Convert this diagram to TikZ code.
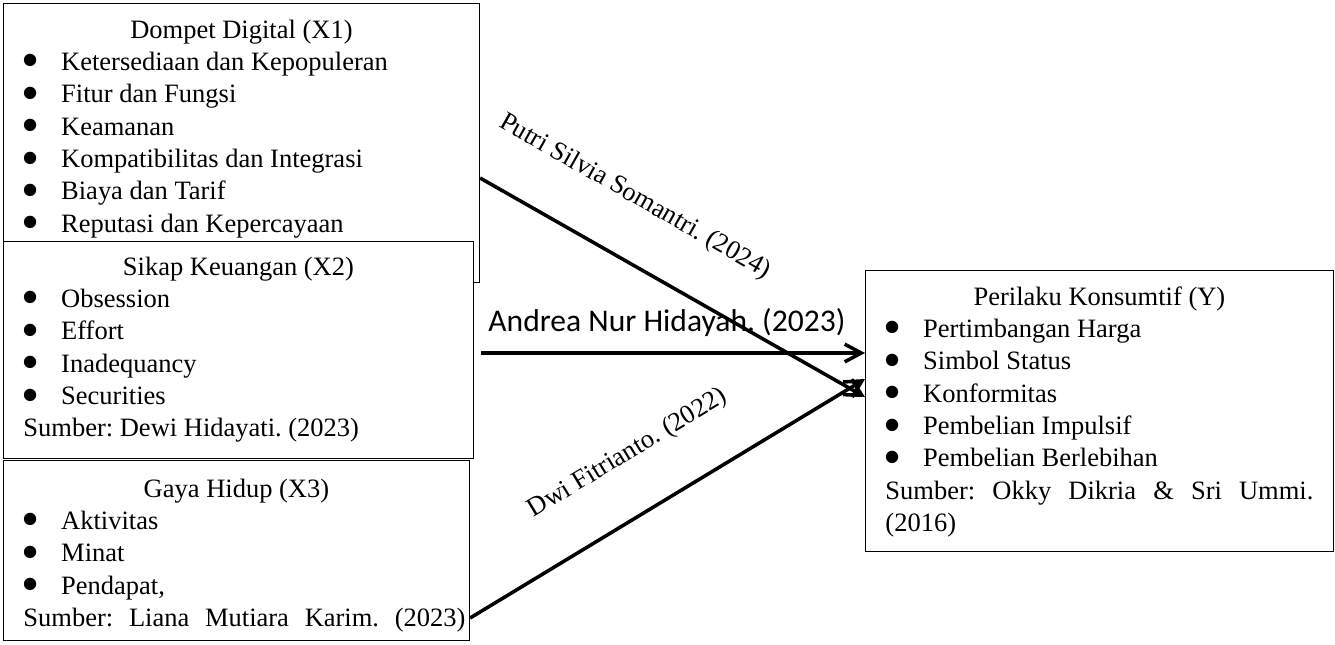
\documentclass[tikz,border=0pt]{standalone}
\usepackage{fontspec}
\usepackage{graphicx}
\setmainfont{Liberation Serif}
\newfontfamily\labelfont{Carlito}
\usetikzlibrary{positioning, arrows.meta, calc}
\frenchspacing
\newlength\px
\setlength\px{0.4529pt}
\newcommand{\titik}{\raisebox{-3.4pt}{\scalebox{1.95}{\textbullet}}}
\newcommand{\butir}[1]{\par\hspace*{-1pt}\makebox[18.1pt][l]{\titik}#1}
\newcommand{\judul}[1]{{\centering #1\par}}
\tikzset{
  kotak/.style={draw, line width=0.5pt, fill=white, anchor=north west, inner sep=0pt},
  isi/.style={anchor=base west, inner sep=0pt, font=\fontsize{12}{14.67}\selectfont\frenchspacing},
  panah/.style={-{Straight Barb[length=7.5pt, width=8pt]}, line width=1.6pt},
  rujukan/.style={font=\fontsize{12}{14.67}\selectfont\frenchspacing, inner sep=0pt, sloped, above}
}

\begin{document}
\begin{tikzpicture}[x=0.4529pt, y=-0.4529pt]
  \useasboundingbox (0,0) rectangle (1335,644);

  % variabel bebas
  \node[kotak, minimum width=476\px, minimum height=279\px] (x1) at (3,3) {};
  \node[isi] (x1isi) at ($(x1.north west)+(20,35)$) {\parbox[t]{436\px}{%
    \judul{Dompet Digital (X1)}
    \butir{Ketersediaan dan Kepopuleran}
    \butir{Fitur dan Fungsi}
    \butir{Keamanan}
    \butir{Kompatibilitas dan Integrasi}
    \butir{Biaya dan Tarif}
    \butir{Reputasi dan Kepercayaan}}};

  \node[kotak, minimum width=470\px, minimum height=217\px] (x2) at (3,241) {};
  \node[isi] (x2isi) at ($(x2.north west)+(20,34)$) {\parbox[t]{430\px}{%
    \judul{Sikap Keuangan (X2)}
    \butir{Obsession}
    \butir{Effort}
    \butir{Inadequancy}
    \butir{Securities}
    \par Sumber: Dewi Hidayati. (2023)}};

  \node[kotak, minimum width=466\px, minimum height=180\px] (x3) at (3,460) {};
  \node[isi] (x3isi) at ($(x3.north west)+(20,37)$) {\parbox[t]{426\px}{%
    \judul{Gaya Hidup (X3)}
    \butir{Aktivitas}
    \butir{Minat}
    \butir{Pendapat,}
    \par\makebox[442\px][s]{Sumber: Liana Mutiara Karim. (2023)}}};

  % variabel terikat
  \node[kotak, minimum width=468\px, minimum height=281\px] (y) at (865,270) {};
  \node[isi] (yisi) at ($(y.north west)+(20,35)$) {\parbox[t]{428\px}{%
    \judul{Perilaku Konsumtif (Y)}
    \butir{Pertimbangan Harga}
    \butir{Simbol Status}
    \butir{Konformitas}
    \butir{Pembelian Impulsif}
    \butir{Pembelian Berlebihan}
    \par\makebox[\linewidth][s]{Sumber: Okky Dikria \& Sri Ummi.}
    \par (2016)}};

  % hubungan
  \draw[panah] (x1.east |- 0,178) -- node[rujukan, pos=0.325, above=21pt] {Putri Silvia Somantri. (2024)} (y.west |- 0,397);
  \draw[panah] ($(x2.east |- 0,353)+(7,0)$) -- node[rujukan, font=\labelfont\fontsize{14.3}{16}\selectfont\frenchspacing, pos=0.484, above=6.5pt] {Andrea Nur Hidayah. (2023)} (y.west |- 0,353);
  \draw[panah] (x3.east |- 0,618) -- node[rujukan, pos=0.477, above=20.5pt] {Dwi Fitrianto. (2022)} (y.west |- 0,379);
\end{tikzpicture}
\end{document}
